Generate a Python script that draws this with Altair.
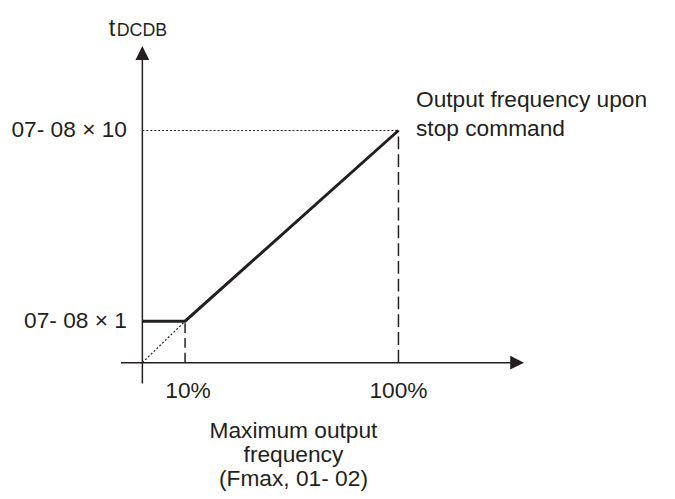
import altair as alt
import pandas as pd

# ---- values (diagram units) ----
x_ticks = [1, 6]                       # 10% and 100% of Fmax
x_tick_labels = ["10%", "100%"]
y_levels = [1, 5.6]                    # 07-08 x 1 and 07-08 x 10
y_level_labels = ["07- 08 × 1", "07- 08 × 10"]
curve_x = [0, 1, 6]
curve_y = [1, 1, 5.6]
x_title_lines = ["Maximum output", "frequency", "(Fmax, 01- 02)"]
note_lines = ["Output frequency upon", "stop command"]
y_title_main = "t"
y_title_sub = "DCDB"

# ---- layout ----
FONT = "Liberation Sans"
INK = "#231f20"
X_AX = (-0.5, 8.65)
Y_AX = (-0.5, 7.35)
xs = alt.Scale(domain=[0, 6], range=[136, 395.2])
ys = alt.Scale(domain=[0, 5.6], range=[356, 121])


def X(f="x"):
    return alt.X(f"{f}:Q", scale=xs, axis=None)


def Y(f="y"):
    return alt.Y(f"{f}:Q", scale=ys, axis=None)


def seg(xv, yv, dash=None, width=1.5):
    df = pd.DataFrame({"x": xv, "y": yv, "o": list(range(len(xv)))})
    kw = dict(color=INK, strokeWidth=width, strokeCap="butt")
    if dash:
        kw["strokeDash"] = dash
    return alt.Chart(df).mark_line(**kw).encode(x=X(), y=Y(), order="o:Q")


layers = []
# axes
layers.append(seg([X_AX[0], X_AX[1]], [0, 0]))
layers.append(seg([0, 0], [Y_AX[0], Y_AX[1]]))
# arrow heads
layers.append(
    alt.Chart(pd.DataFrame({"x": [8.78], "y": [0]}))
    .mark_point(shape="M1,0L-1,-1L-1,1Z", filled=True, size=196, color=INK, opacity=1, strokeWidth=0)
    .encode(x=X(), y=Y())
)
layers.append(
    alt.Chart(pd.DataFrame({"x": [0], "y": [7.47]}))
    .mark_point(shape="M0,-1L1,1L-1,1Z", filled=True, size=196, color=INK, opacity=1, strokeWidth=0)
    .encode(x=X(), y=Y())
)
# guide lines
layers.append(seg([0, x_ticks[0]], [0, y_levels[0]], dash=[2, 2], width=1.2))
layers.append(seg([0, x_ticks[1]], [y_levels[1], y_levels[1]], dash=[2, 2], width=1.2))
layers.append(seg([x_ticks[0], x_ticks[0]], [0, y_levels[0]], dash=[10, 5], width=1.5))
layers.append(seg([x_ticks[1], x_ticks[1]], [0, y_levels[1]], dash=[13, 5], width=1.5))
# main curve
layers.append(seg(curve_x, curve_y, width=3))

# y level labels
layers.append(
    alt.Chart(pd.DataFrame({"x": [-0.36] * 2, "y": y_levels, "t": y_level_labels}))
    .mark_text(align="right", baseline="middle", font=FONT, fontSize=23, color=INK)
    .encode(x=X(), y=Y(), text="t:N")
)
# x tick labels
layers.append(
    alt.Chart(pd.DataFrame({"x": [x_ticks[0] + 0.07, x_ticks[1]], "y": [-0.69] * 2, "t": x_tick_labels}))
    .mark_text(align="center", baseline="middle", font=FONT, fontSize=23, color=INK)
    .encode(x=X(), y=Y(), text="t:N")
)
# x title
layers.append(
    alt.Chart(pd.DataFrame({"x": [3.54] * 3, "y": [-1.64, -2.24, -2.81], "t": x_title_lines}))
    .mark_text(align="center", baseline="middle", font=FONT, fontSize=23, color=INK)
    .encode(x=X(), y=Y(), text="t:N")
)
# note
layers.append(
    alt.Chart(pd.DataFrame({"x": [6.41] * 2, "y": [6.33, 5.64], "t": note_lines}))
    .mark_text(align="left", baseline="middle", font=FONT, fontSize=23, color=INK)
    .encode(x=X(), y=Y(), text="t:N")
)
# y title
layers.append(
    alt.Chart(pd.DataFrame({"x": [-0.79], "y": [7.88], "t": [y_title_main]}))
    .mark_text(align="left", baseline="alphabetic", font=FONT, fontSize=24, color=INK)
    .encode(x=X(), y=Y(), text="t:N")
)
layers.append(
    alt.Chart(pd.DataFrame({"x": [-0.60], "y": [7.88], "t": [y_title_sub]}))
    .mark_text(align="left", baseline="alphabetic", font=FONT, fontSize=18, color=INK)
    .encode(x=X(), y=Y(), text="t:N")
)

chart = (
    alt.layer(*layers)
    .properties(width=667, height=491, autosize=alt.AutoSizeParams(type="none"), padding=0, background="white")
    .configure_view(stroke=None)
)

chart.save("out.html", embed_options={"renderer": "svg", "actions": False})
